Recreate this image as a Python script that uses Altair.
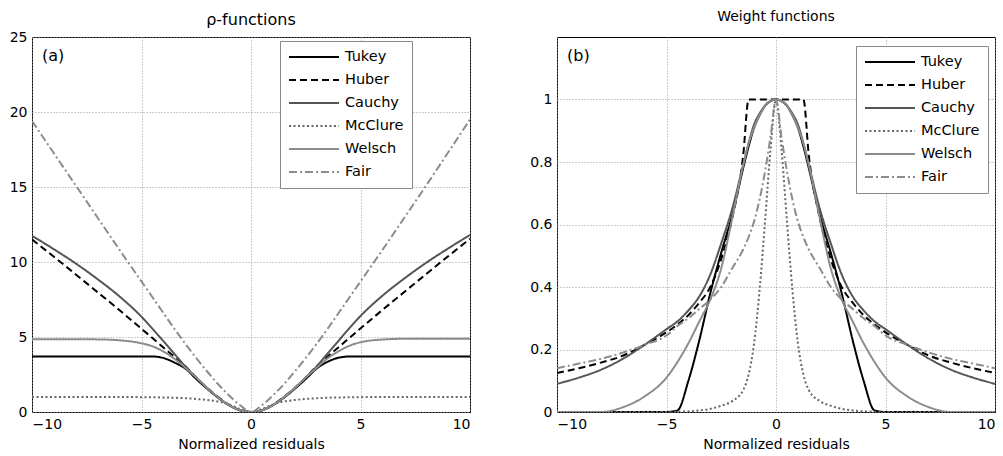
import altair as alt
import pandas as pd

SERIES = ["Tukey", "Huber", "Cauchy", "McClure", "Welsch", "Fair"]
COLORS = ["#000000", "#000000", "#555555", "#666666", "#8c8c8c", "#8c8c8c"]
DASHES = [[1, 0], [7, 4], [1, 0], [2, 2.5], [1, 0], [8, 3, 2, 3]]

# ---------- panel (a): rho-functions ----------
XA = [-10, -9, -8, -7, -6, -5, -4.5, -4, -3.5, -3, -2.5, -2, -1.5, -1, -0.5,
      0, 0.5, 1, 1.5, 2, 2.5, 3, 3.5, 4, 4.5, 5, 6, 7, 8, 9, 10]

RHO_TUKEY = [3.7, 3.7, 3.7, 3.7, 3.7, 3.7, 3.7, 3.6, 3.3, 2.9, 2.2, 1.55, 0.95, 0.45, 0.12,
             0, 0.12, 0.45, 0.95, 1.55, 2.2, 2.9, 3.35, 3.62, 3.7, 3.7, 3.7, 3.7, 3.7, 3.7, 3.7]
RHO_HUBER = [11.5, 10.35, 9.17, 7.98, 6.78, 5.55, 4.93, 4.3, 3.68, 3.05, 2.3, 1.6, 1.0, 0.47, 0.12,
             0, 0.12, 0.47, 1.0, 1.6, 2.3, 3.05, 3.7, 4.32, 4.95, 5.57, 6.8, 8.0, 9.2, 10.38, 11.55]
RHO_CAUCHY = [11.75, 10.85, 9.9, 8.85, 7.7, 6.35, 5.55, 4.72, 3.88, 3.05, 2.3, 1.6, 0.98, 0.46, 0.12,
              0, 0.12, 0.46, 0.98, 1.6, 2.3, 3.05, 3.9, 4.75, 5.6, 6.4, 7.75, 8.9, 9.95, 10.9, 11.8]
RHO_MCCLURE = [1.0, 1.0, 1.0, 1.0, 1.0, 0.99, 0.98, 0.97, 0.95, 0.92, 0.87, 0.8, 0.7, 0.5, 0.2,
               0, 0.2, 0.5, 0.7, 0.8, 0.87, 0.92, 0.95, 0.97, 0.98, 0.99, 1.0, 1.0, 1.0, 1.0, 1.0]
RHO_WELSCH = [4.85, 4.85, 4.85, 4.84, 4.78, 4.58, 4.38, 4.03, 3.55, 2.95, 2.3, 1.6, 0.98, 0.46, 0.12,
              0, 0.12, 0.46, 0.98, 1.6, 2.3, 2.95, 3.58, 4.05, 4.42, 4.65, 4.83, 4.88, 4.88, 4.88, 4.88]
RHO_FAIR = [19.4, 17.25, 15.1, 12.95, 10.8, 8.7, 7.65, 6.6, 5.55, 4.55, 3.6, 2.7, 1.85, 1.1, 0.45,
            0, 0.45, 1.1, 1.85, 2.7, 3.6, 4.55, 5.55, 6.6, 7.65, 8.7, 10.8, 12.95, 15.1, 17.3, 19.5]

# ---------- panel (b): weight functions ----------
XB = [-10, -9, -8, -7, -6, -5, -4.5, -4, -3.5, -3, -2.5, -2, -1.5, -1.25, -1, -0.75, -0.5, -0.25,
      0, 0.25, 0.5, 0.75, 1, 1.25, 1.5, 2, 2.5, 3, 3.5, 4, 4.5, 5, 6, 7, 8, 9, 10]

W_TUKEY = [0, 0, 0, 0, 0, 0, 0.005, 0.1, 0.23, 0.38, 0.51, 0.63, 0.78, 0.85, 0.91, 0.95, 0.98, 0.995,
           1, 0.995, 0.98, 0.95, 0.91, 0.85, 0.78, 0.63, 0.51, 0.38, 0.23, 0.1, 0.005, 0, 0, 0, 0, 0, 0]
W_HUBER = [0.125, 0.14, 0.158, 0.18, 0.215, 0.255, 0.28, 0.31, 0.35, 0.40, 0.49, 0.62, 0.82, 1, 1, 1, 1, 1,
           1, 1, 1, 1, 1, 1, 0.82, 0.62, 0.49, 0.40, 0.35, 0.31, 0.28, 0.255, 0.215, 0.18, 0.158, 0.14, 0.125]
W_CAUCHY = [0.09, 0.11, 0.135, 0.17, 0.215, 0.265, 0.29, 0.325, 0.37, 0.44, 0.54, 0.65, 0.79, 0.86, 0.92, 0.955, 0.98, 0.995,
            1, 0.995, 0.98, 0.955, 0.92, 0.86, 0.79, 0.65, 0.54, 0.44, 0.37, 0.325, 0.29, 0.265, 0.215, 0.17, 0.135, 0.11, 0.09]
W_MCCLURE = [0, 0, 0, 0, 0, 0, 0.001, 0.002, 0.005, 0.01, 0.02, 0.035, 0.07, 0.12, 0.22, 0.39, 0.61, 0.84,
             1, 0.84, 0.61, 0.39, 0.22, 0.12, 0.07, 0.035, 0.02, 0.01, 0.005, 0.002, 0.001, 0, 0, 0, 0, 0, 0]
W_WELSCH = [0, 0, 0, 0.015, 0.05, 0.11, 0.16, 0.22, 0.29, 0.36, 0.46, 0.62, 0.79, 0.86, 0.91, 0.95, 0.98, 0.995,
            1, 0.995, 0.98, 0.95, 0.91, 0.86, 0.79, 0.62, 0.46, 0.36, 0.29, 0.22, 0.16, 0.11, 0.05, 0.015, 0, 0, 0]
W_FAIR = [0.14, 0.155, 0.17, 0.19, 0.215, 0.245, 0.275, 0.30, 0.33, 0.36, 0.40, 0.46, 0.52, 0.56, 0.61, 0.68, 0.77, 0.88,
          1, 0.88, 0.77, 0.68, 0.61, 0.56, 0.52, 0.46, 0.40, 0.36, 0.33, 0.30, 0.275, 0.245, 0.215, 0.19, 0.17, 0.155, 0.14]

XTICKS = [-10, -5, 0, 5, 10]
YTICKS_A = [0, 5, 10, 15, 20, 25]
YTICKS_B = [0, 0.2, 0.4, 0.6, 0.8, 1]


def long_table(xs, named):
    rows = []
    for name, vals in named:
        for i, (xv, yv) in enumerate(zip(xs, vals)):
            rows.append({"x": xv, "y": yv, "series": name, "order": i})
    return pd.DataFrame(rows)


dfa = long_table(XA, list(zip(SERIES, [RHO_TUKEY, RHO_HUBER, RHO_CAUCHY, RHO_MCCLURE, RHO_WELSCH, RHO_FAIR])))
dfb = long_table(XB, list(zip(SERIES, [W_TUKEY, W_HUBER, W_CAUCHY, W_MCCLURE, W_WELSCH, W_FAIR])))

FONT = "DejaVu Sans"
color_scale = alt.Scale(domain=SERIES, range=COLORS)
dash_scale = alt.Scale(domain=SERIES, range=DASHES)

W, H = 438, 375


def make_legend(lx, ly):
    return alt.Legend(
        title=None, orient="none", legendX=lx, legendY=ly,
        symbolType="stroke", symbolSize=2500, symbolStrokeWidth=2,
        clipHeight=16, rowPadding=7, labelFontSize=14.5, labelFont=FONT,
        labelColor="black", labelOffset=5, padding=8,
        strokeColor="#888888", fillColor="white", labelLimit=200,
    )


def panel(df, ydomain, yticks, yfmt, title, tsize, toff, tag, lx, ly):
    lg = make_legend(lx, ly)
    lines = alt.Chart(df).mark_line(strokeWidth=2, interpolate="monotone", clip=True).encode(
        x=alt.X("x:Q", scale=alt.Scale(domain=[-10, 10], nice=False, zero=False),
                axis=alt.Axis(values=XTICKS, format="d", title="Normalized residuals")),
        y=alt.Y("y:Q", scale=alt.Scale(domain=ydomain, nice=False),
                axis=alt.Axis(values=yticks, format=yfmt, title=None)),
        color=alt.Color("series:N", scale=color_scale, legend=lg),
        strokeDash=alt.StrokeDash("series:N", scale=dash_scale, legend=lg),
        order="order:Q",
    )
    tag_text = alt.Chart(pd.DataFrame({"t": [tag]})).mark_text(
        align="left", baseline="middle", fontSize=16, font=FONT, color="black"
    ).encode(x=alt.value(10), y=alt.value(19), text="t:N")
    return alt.layer(lines, tag_text).properties(
        width=W, height=H,
        title=alt.Title(title, fontSize=tsize, font=FONT, fontWeight="normal", color="black", offset=toff),
    )


pa = panel(dfa, [0, 25], YTICKS_A, "d", "ρ-functions", 16, 2, "(a)", 248, 4)
pb = panel(dfb, [0, 1.2], YTICKS_B, "~g", "Weight functions", 14, 13, "(b)", 299, 9)

chart = alt.hconcat(pa, pb, spacing=87, bounds="flush").resolve_scale(
    color="independent", strokeDash="independent"
).properties(
    padding={"left": 8, "top": 9, "right": 2, "bottom": 2},
    background="white",
).configure_view(
    stroke="black", strokeWidth=1
).configure_axis(
    grid=True, gridColor="#9a9a9a", gridDash=[1, 2], gridWidth=1,
    domain=False, ticks=False,
    labelFont=FONT, labelFontSize=14, labelColor="black", labelPadding=5,
    titleFont=FONT, titleFontSize=14, titleFontWeight="normal", titleColor="black", titlePadding=6,
)

chart.save("out.html", embed_options={"renderer": "svg", "actions": False})
